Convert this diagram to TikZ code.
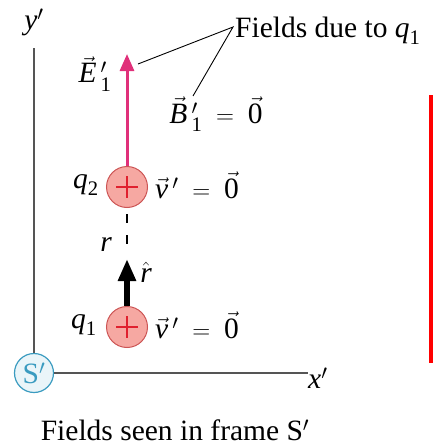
\documentclass[tikz,border=0pt]{standalone}
\usepackage{amsmath}
\usepackage{fontspec}
\setmainfont{Liberation Serif}
\usetikzlibrary{arrows.meta}
\definecolor{efield}{HTML}{E0307A}
\definecolor{chargefill}{HTML}{F6A8A2}
\definecolor{chargeedge}{HTML}{CC5555}
\definecolor{plusred}{HTML}{E0202E}
\definecolor{framefill}{HTML}{EAF5F9}
\definecolor{frameedge}{HTML}{3A9BC0}
\definecolor{axisgray}{HTML}{555555}
\newcommand{\lsub}[1]{_{\text{#1}}}
\tikzset{
  charge/.style={circle, minimum size=41pt, inner sep=0pt, draw=chargeedge, line width=1pt, fill=chargefill,
    path picture={\draw[plusred, line width=2.2pt] (path picture bounding box.center) ++(-11,0) -- ++(22,0)
      (path picture bounding box.center) ++(0,-11) -- ++(0,22);}},
  frameS/.style={circle, minimum size=39pt, inner sep=0pt, draw=frameedge, line width=1.2pt, fill=framefill, text=frameedge},
  axis/.style={draw=axisgray, line width=1.6pt},
  efarrow/.style={draw=efield, line width=3pt, -{Triangle[length=17pt,width=14pt]}},
  rarrow/.style={draw=black, line width=6pt, -{Triangle[length=22pt,width=17pt]}},
  leader/.style={draw=black, line width=0.9pt},
  sep/.style={draw=black, line width=1.2pt, dash pattern=on 9pt off 12pt},
  lbl/.style={inner sep=0pt}
}
\begin{document}
\begin{tikzpicture}[x=1pt,y=-1pt,font=\fontsize{29.5}{33}\selectfont]
\useasboundingbox (0,0) rectangle (434,447);
% frame and axes
\node[frameS] (S) at (34,373) {S$'$};
\coordinate (ytop) at (34,48);
\coordinate (xend) at (308,373);
\draw[axis] (S) -- (ytop);
\draw[axis] (S) -- (xend);
\node[lbl] (ylab) at (34,22) {$\textit{y}'$};
\node[lbl, anchor=west] (xlab) at (308,378) {$\textit{x}'$};
% charges
\node[charge] (q2) at (127,187) {};
\node[charge] (q1) at (127,327) {};
% fields
\coordinate (Etip) at (127,54);
\draw[efarrow] (q2) -- (Etip);
\coordinate (rtip) at (127,259);
\draw[rarrow] (q1) -- (rtip);
\coordinate (sepend) at (127,255);
\draw[sep] (q2.south) ++(0,6) -- (sepend);
% labels
\node[lbl] (q2lab) at (86,185) {$\textit{q}\lsub{2}$};
\node[lbl] (q1lab) at (84,325) {$\textit{q}\lsub{1}$};
\node[lbl, anchor=west] (v2lab) at (155,185) {$\vec{\textit{v}}\,'\;=\;\vec{\text{0}}$};
\node[lbl, anchor=west] (v1lab) at (155,325) {$\vec{\textit{v}}\,'\;=\;\vec{\text{0}}$};
\node[lbl] (Elab) at (95,74) {$\vec{\textit{E}}\,'\lsub{1}$};
\node[lbl] (Blab) at (216,114) {$\vec{\textit{B}}\,'\lsub{1}\;=\;\vec{\text{0}}$};
\node[lbl] (rlab) at (106,245) {$\textit{r}$};
\node[lbl] (rhat) at (146,272) {$\hat{\textit{r}}$};
\node[lbl, anchor=west] (fields) at (235,31) {Fields due to $\textit{q}\lsub{1}$};
\coordinate (lv) at (233,27);
\coordinate (lE) at (138,64);
\coordinate (lB) at (193,96);
\draw[leader] (lE) -- (lv) -- (lB);
% red bar
\draw[red, line width=4pt] (431,95) -- (431,363);
% caption
\node[lbl] (caption) at (175,430) {Fields seen in frame S$'$};
\end{tikzpicture}
\end{document}
